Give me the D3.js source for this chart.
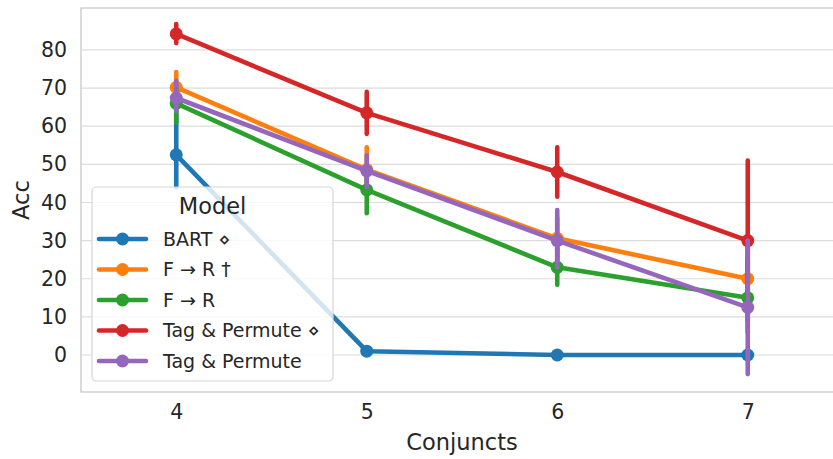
<!DOCTYPE html>
<html><head><meta charset="utf-8">
<script src="https://cdn.jsdelivr.net/npm/d3@7"></script>
<style>body{margin:0;background:#fff;} text{font-family:"DejaVu Sans",sans-serif;fill:#262626;}</style>
</head><body>
<svg id="c" width="833" height="459"></svg>
<script>
const categories = [4, 5, 6, 7];
const seriesNames = ["BART \u22c4", "F \u2192 R \u2020", "F \u2192 R", "Tag & Permute \u22c4", "Tag & Permute"];
const colors = ["#1f77b4", "#ff7f0e", "#2ca02c", "#d62728", "#9467bd"];
const bartVals = [52.5, 1, 0, 0];
const bartLo = [44, 1, 0, 0];
const bartHi = [66, 1, 0, 0];
const frtVals = [70.2, 48.6, 30.6, 20];
const frtLo = [66, 43, 25, 12];
const frtHi = [74.2, 54.5, 36, 28];
const frVals = [66, 43.3, 23, 15];
const frLo = [61, 37.2, 18.4, 6];
const frHi = [70, 49, 28, 25];
const tpdVals = [84.2, 63.5, 48, 30];
const tpdLo = [81.8, 58, 41.5, 9];
const tpdHi = [86.8, 69, 54.5, 51];
const tpVals = [67.4, 48.3, 30, 12.5];
const tpLo = [64, 44, 23, -5];
const tpHi = [72, 52.4, 38, 30];
const yTicks = [0, 10, 20, 30, 40, 50, 60, 70, 80];

const vals = [bartVals, frtVals, frVals, tpdVals, tpVals];
const los = [bartLo, frtLo, frLo, tpdLo, tpLo];
const his = [bartHi, frtHi, frHi, tpdHi, tpHi];

const svg = d3.select("#c");
const L = 81, R = 843, T = 8, B = 392;
const x = d3.scaleLinear().domain([-0.5, 3.5]).range([L, R]);
const y = d3.scaleLinear().domain([-9.7, 91.0]).range([B, T]);

svg.append("defs").append("clipPath").attr("id","pc").append("rect")
  .attr("x", L).attr("y", T).attr("width", R-L).attr("height", B-T);

// grid
svg.append("g").selectAll("line").data(yTicks).join("line")
  .attr("x1", L).attr("x2", R).attr("y1", d=>y(d)).attr("y2", d=>y(d))
  .attr("stroke", "#dcdcdc").attr("stroke-width", 1.2);
// frame
svg.append("rect").attr("x", L).attr("y", T).attr("width", R-L).attr("height", B-T)
  .attr("fill","none").attr("stroke","#cccccc").attr("stroke-width",1.4);

// axes
const yAxis = d3.axisLeft(y).tickValues(yTicks).tickSize(0).tickPadding(14);
const gy = svg.append("g").attr("transform", `translate(${L},0)`).call(yAxis);
gy.select(".domain").remove();
gy.selectAll("text").attr("font-size", 20.5).style("fill","#262626").attr("font-family","DejaVu Sans");

const xAxis = d3.axisBottom(x).tickValues([0,1,2,3]).tickFormat((d,i)=>categories[i]).tickSize(0).tickPadding(12);
const gx = svg.append("g").attr("transform", `translate(0,${B})`).call(xAxis);
gx.select(".domain").remove();
gx.selectAll("text").attr("font-size", 20.5).style("fill","#262626").attr("font-family","DejaVu Sans");

svg.append("text").attr("x", (L+R)/2).attr("y", 450).attr("text-anchor","middle")
  .attr("font-size", 22.5).text("Conjuncts");
svg.append("text").attr("transform", `translate(29,${(T+B)/2}) rotate(-90)`).attr("text-anchor","middle")
  .attr("font-size", 22.5).text("Acc");

const plot = svg.append("g").attr("clip-path","url(#pc)");
const line = d3.line().x((d,i)=>x(i)).y(d=>y(d));
vals.forEach((v, s) => {
  const g = plot.append("g");
  g.append("path").datum(v).attr("d", line).attr("fill","none")
    .attr("stroke", colors[s]).attr("stroke-width", 4.6).attr("stroke-linejoin","round");
  g.selectAll("circle").data(v).join("circle")
    .attr("cx", (d,i)=>x(i)).attr("cy", d=>y(d)).attr("r", 6.5).attr("fill", colors[s]);
  g.selectAll("line.err").data(v).join("line").attr("class","err")
    .attr("x1", (d,i)=>x(i)).attr("x2", (d,i)=>x(i))
    .attr("y1", (d,i)=>y(los[s][i])).attr("y2", (d,i)=>y(his[s][i]))
    .attr("stroke", colors[s]).attr("stroke-width", 4.6).attr("stroke-linecap","round")
    .attr("display", (d,i)=> his[s][i]-los[s][i] > 0.01 ? null : "none");
});

// legend
const lg = svg.append("g");
lg.append("rect").attr("x", 92).attr("y", 187).attr("width", 241).attr("height", 194)
  .attr("rx", 4).attr("fill", "rgba(255,255,255,0.8)").attr("stroke", "#d6d6d6").attr("stroke-width", 1.2);
lg.append("text").attr("x", 212.5).attr("y", 214).attr("text-anchor","middle").attr("font-size", 22.5).text("Model");
seriesNames.forEach((n, i) => {
  const yy = 239 + i * 30.5;
  lg.append("line").attr("x1", 99).attr("x2", 146).attr("y1", yy).attr("y2", yy)
    .attr("stroke", colors[i]).attr("stroke-width", 4.6).attr("stroke-linecap","round");
  lg.append("circle").attr("cx", 122.5).attr("cy", yy).attr("r", 6.5).attr("fill", colors[i]);
  lg.append("text").attr("x", 163).attr("y", yy).attr("dy", "0.35em").attr("font-size", 19).text(n);
});
</script>
</body></html>
